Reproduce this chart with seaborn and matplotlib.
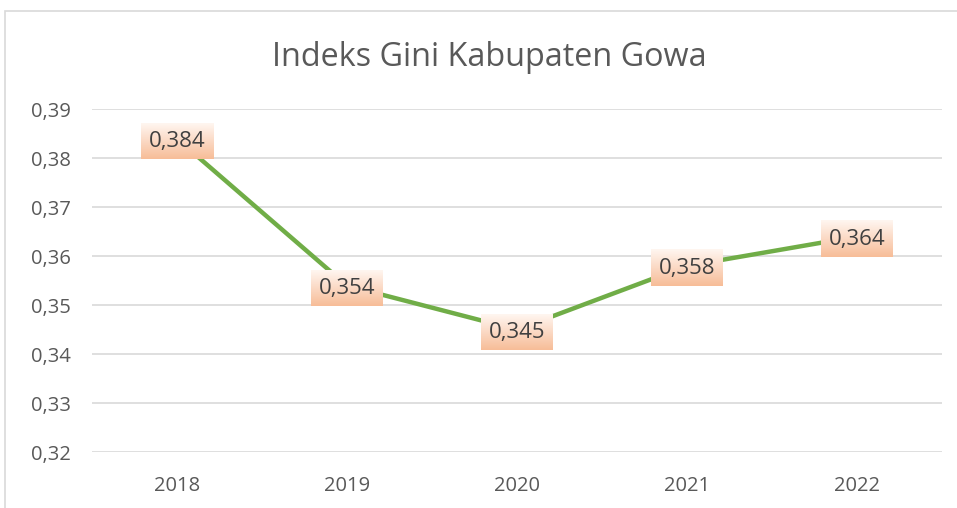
import matplotlib
matplotlib.use("Agg")
import matplotlib.pyplot as plt
import seaborn as sns
import pandas as pd
import numpy as np
from matplotlib.patches import Rectangle
from matplotlib.colors import LinearSegmentedColormap
from matplotlib.ticker import FuncFormatter

years = ["2018", "2019", "2020", "2021", "2022"]
gini = [0.384, 0.354, 0.345, 0.358, 0.364]
yticks = [0.32, 0.33, 0.34, 0.35, 0.36, 0.37, 0.38, 0.39]

df = pd.DataFrame({"Tahun": years, "Gini": gini})

sns.set_theme(style="white")
plt.rcParams["font.family"] = ["Open Sans", "DejaVu Sans"]

W, H = 957, 508
fig = plt.figure(figsize=(W / 100, H / 100), dpi=100)
ax = fig.add_axes([0.096, 0.110, 0.888, 0.675])

# outer border
fig.patches.append(Rectangle((5 / W, -0.01), 1.0, 1 - 11 / H + 0.01,
                             transform=fig.transFigure, fill=False,
                             edgecolor="#d9d9d9", linewidth=1.2))

sns.lineplot(data=df, x="Tahun", y="Gini", ax=ax, color="#70AD47",
             linewidth=3.2, sort=False, zorder=3)

ax.set_xlim(-0.5, 4.5)
ax.set_ylim(0.32, 0.39)
ax.set_yticks(yticks)
ax.yaxis.set_major_formatter(FuncFormatter(lambda v, p: f"{v:.2f}".replace(".", ",")))
ax.grid(axis="y", color="#d9d9d9", linewidth=1.2)
ax.grid(axis="x", visible=False)
for s in ax.spines.values():
    s.set_visible(False)
ax.tick_params(axis="both", length=0, labelsize=14.5, labelcolor="#595959")
ax.tick_params(axis="x", pad=17)
ax.tick_params(axis="y", pad=15)
ax.set_xlabel("")
ax.set_ylabel("")

# gradient label boxes
cmap = LinearSegmentedColormap.from_list("peach", ["#F7BD98", "#FBD9C4", "#FFF6F0"])
grad = np.linspace(0, 1, 64).reshape(-1, 1)
fig.canvas.draw()
inv = ax.transData.inverted()
box_w, box_h = 72, 36  # pixels
for i, v in enumerate(gini):
    cx, cy = ax.transData.transform((i, v))
    cy -= 2
    (x0, y0) = inv.transform((cx - box_w / 2, cy - box_h / 2))
    (x1, y1) = inv.transform((cx + box_w / 2, cy + box_h / 2))
    ax.imshow(grad, cmap=cmap, origin="lower", aspect="auto",
              extent=(x0, x1, y0, y1), zorder=4, interpolation="bilinear")
    ax.text(i, v, f"{v:.3f}".replace(".", ","), ha="center",
            va="center_baseline", fontsize=16, color="#404040", zorder=5)
ax.set_xlim(-0.5, 4.5)
ax.set_ylim(0.32, 0.39)

fig.text(0.5 * (272 + 706) / W, 1 - 57 / H, "Indeks Gini Kabupaten Gowa",
         ha="center", va="center", fontsize=23.3, color="#595959")

fig.savefig("out.png", dpi=100, facecolor="white")
